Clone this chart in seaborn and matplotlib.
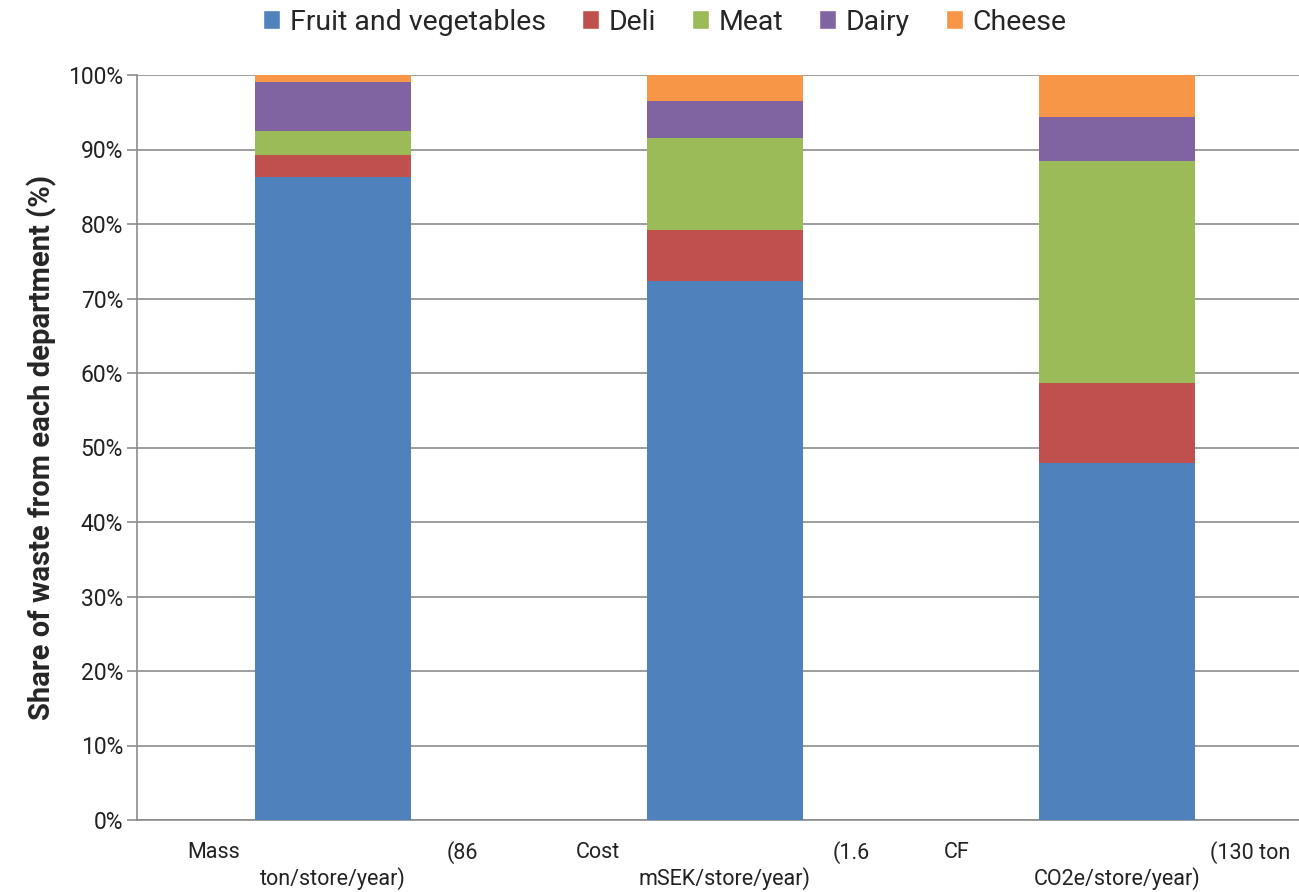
import numpy as np
import pandas as pd
import matplotlib
matplotlib.use('Agg')
import matplotlib.pyplot as plt
import matplotlib.transforms as mtransforms
from matplotlib.patches import Patch
import seaborn as sns

# 데이터 (그림에서 읽은 값, %)
measures = ['Mass', 'Cost', 'CF']
label_left = ['Mass', 'Cost', 'CF']
label_right = ['(86', '(1.6', '(130 ton']
label_line2 = ['ton/store/year)', 'mSEK/store/year)', 'CO2e/store/year)']
departments = ['Fruit and vegetables', 'Deli', 'Meat', 'Dairy', 'Cheese']
fruit_veg = [86.3, 72.4, 47.9]
deli = [2.9, 6.8, 10.7]
meat = [3.3, 12.3, 29.9]
dairy = [6.5, 5.0, 5.8]
cheese = [1.0, 3.5, 5.7]
colors = ['#4F81BD', '#C0504D', '#9BBB59', '#8064A2', '#F79646']

sns.set_style('white')
plt.rcParams['font.family'] = ['Roboto', 'DejaVu Sans']

df = pd.DataFrame({'measure': measures, 'Fruit and vegetables': fruit_veg,
                   'Deli': deli, 'Meat': meat, 'Dairy': dairy, 'Cheese': cheese})
cum = df[departments].cumsum(axis=1)
cum['measure'] = df['measure']

fig = plt.figure(figsize=(12.99, 8.92), dpi=100)
ax = fig.add_axes([137 / 1299, 1 - 820 / 892, 1176 / 1299, 745 / 892])

# 누적값을 위에서부터 겹쳐 그리기
for dep, col in reversed(list(zip(departments, colors))):
    sns.barplot(data=cum, x='measure', y=dep, color=col, width=0.4,
                errorbar=None, saturation=1, linewidth=0, ax=ax, zorder=3)

ax.set_xlim(-0.5, 2.5)
ax.set_ylim(0, 100)
ax.set_yticks(np.arange(0, 101, 10))
ax.set_yticklabels([f'{v}%' for v in range(0, 101, 10)], fontsize=16.5)
ax.yaxis.grid(True, color='#8C8C8C', linewidth=1.2, zorder=0)
ax.set_axisbelow(True)
for s in ['top', 'right']:
    ax.spines[s].set_visible(False)
for s in ['left', 'bottom']:
    ax.spines[s].set_color('#8C8C8C')
    ax.spines[s].set_linewidth(1.2)
ax.tick_params(axis='y', left=True, length=7, color='#8C8C8C', width=1.2, pad=3,
               labelcolor='#222222')
ax.set_xticks([0, 1, 2])
ax.set_xticklabels([])
ax.tick_params(axis='x', which='major', length=0)
ax.set_xticks([-0.5, 0.5, 1.5], minor=True)
ax.tick_params(axis='x', which='minor', length=8, color='#8C8C8C', width=1.2)
ax.set_xlabel('')
ax.set_ylabel('Share of waste from each department (%)', fontsize=21,
              fontweight='bold', labelpad=8)

# x축 라벨 (양쪽 정렬 모양)
trans = mtransforms.blended_transform_factory(ax.transData, ax.transAxes)
offs_l = [-0.372, -0.38, -0.441]
offs_r = [0.37, 0.37, 0.441]
for i in range(3):
    ax.text(i + offs_l[i], -0.043, label_left[i], transform=trans, ha='left',
            va='center', fontsize=15.5, color='#222222')
    ax.text(i + offs_r[i], -0.043, label_right[i], transform=trans, ha='right',
            va='center', fontsize=15.5, color='#222222')
    ax.text(i, -0.079, label_line2[i], transform=trans, ha='center',
            va='center', fontsize=15.5, color='#222222')

handles = [Patch(facecolor=c, label=d) for d, c in zip(departments, colors)]
fig.legend(handles=handles, loc='center', bbox_to_anchor=(665 / 1299, 1 - 22 / 892),
           ncol=5, frameon=False, fontsize=20.5, handlelength=0.6, handleheight=0.6,
           handletextpad=0.35, columnspacing=1.25)

fig.savefig('out.png', dpi=100)
